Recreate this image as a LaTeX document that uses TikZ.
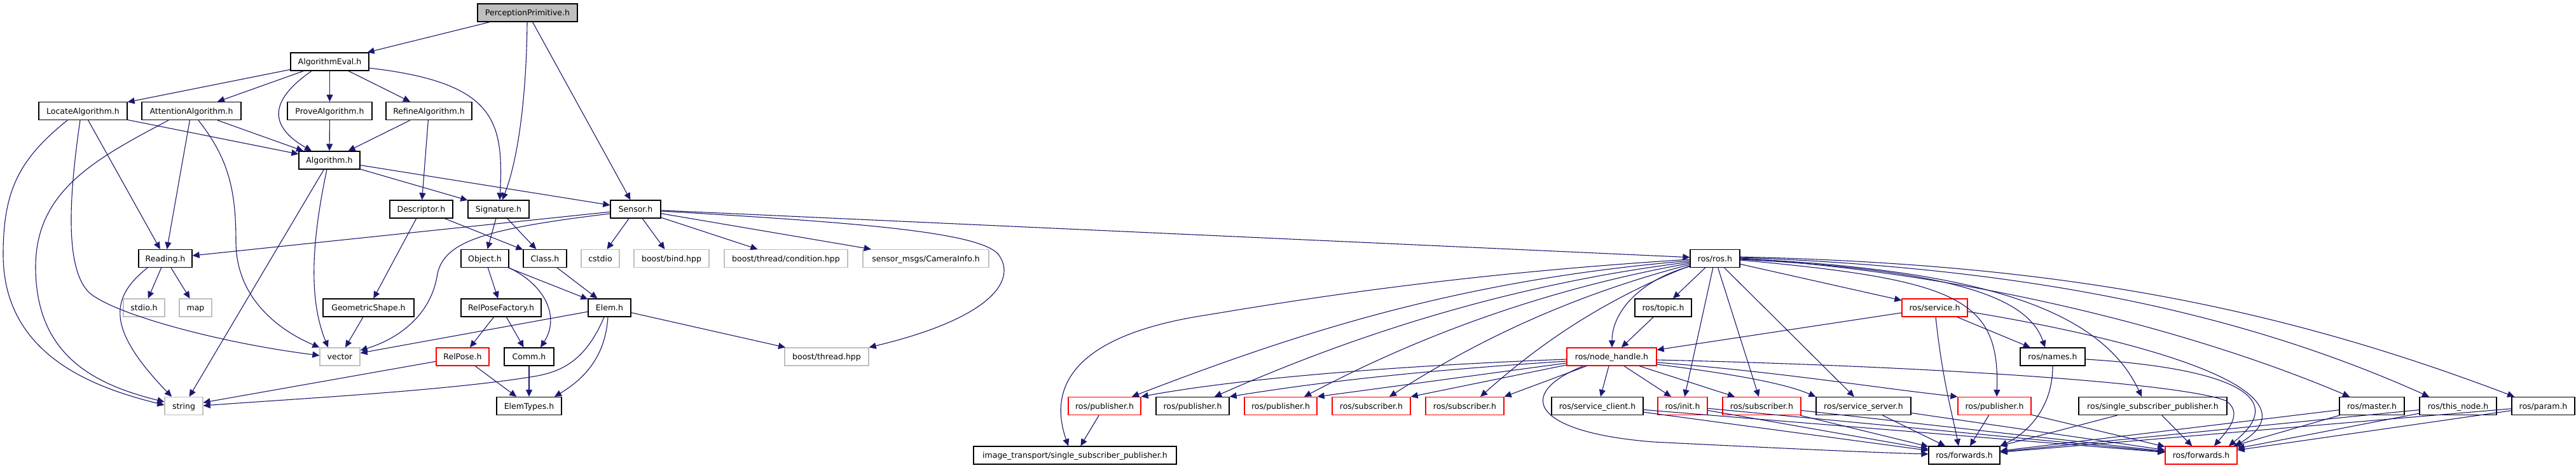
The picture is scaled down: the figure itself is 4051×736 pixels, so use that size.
\documentclass[tikz,border=0pt]{standalone}
\usepackage{fontspec}
\setmainfont{DejaVu Sans}
\usetikzlibrary{arrows.meta}
\definecolor{edgec}{HTML}{191970}
\definecolor{greyb}{HTML}{BFBFBF}
\newcommand{\mybox}[6]{\node[#5, minimum width={(#3-#2)*1pt}] (#1) at ({(#2+#3)/2},#4) {#6};}
\begin{document}
\begin{tikzpicture}[x=1pt,y=-1pt,
  font=\fontsize{12.5}{15}\selectfont,
  nb/.style={draw=black, line width=1.3pt, fill=white, inner sep=0pt, minimum height=28pt, text height=9.1pt, text depth=0pt},
  ng/.style={nb, draw=greyb},
  nr/.style={nb, draw=red},
  np/.style={nb, fill=greyb},
  dep/.style={draw=edgec, line width=1.1pt, -{Triangle[length=11pt,width=10pt]}, fill=none}
]
\useasboundingbox[fill=white] (0,0) rectangle (4051,736);
% rows: 20, 97, 174.5, 252, 329, 406.5, 484, 561, 638.5, 716
\mybox{P}{751}{908}{20}{np}{PerceptionPrimitive.h}
\mybox{AE}{457}{580}{97}{nb}{AlgorithmEval.h}
\mybox{LA}{61}{200}{174.5}{nb}{LocateAlgorithm.h}
\mybox{AA}{223}{379}{174.5}{nb}{AttentionAlgorithm.h}
\mybox{PA}{452}{585}{174.5}{nb}{ProveAlgorithm.h}
\mybox{RA}{607}{742}{174.5}{nb}{RefineAlgorithm.h}
\mybox{AL}{470}{566}{252}{nb}{Algorithm.h}
\mybox{DE}{613}{712}{329}{nb}{Descriptor.h}
\mybox{SI}{736}{832}{329}{nb}{Signature.h}
\mybox{SE}{960}{1039}{329}{nb}{Sensor.h}
\mybox{RE}{218}{302}{406.5}{nb}{Reading.h}
\mybox{OB}{725}{800}{406.5}{nb}{Object.h}
\mybox{CL}{823}{891}{406.5}{nb}{Class.h}
\mybox{CS}{914}{974}{406.5}{ng}{cstdio}
\mybox{BB}{997}{1115}{406.5}{ng}{boost/bind.hpp}
\mybox{BC}{1139}{1333}{406.5}{ng}{boost/thread/condition.hpp}
\mybox{CI}{1357}{1555}{406.5}{ng}{sensor\_msgs/CameraInfo.h}
\mybox{RO}{2658}{2736}{406.5}{nb}{ros/ros.h}
\mybox{ST}{194}{259}{484}{ng}{stdio.h}
\mybox{MA}{282}{333}{484}{ng}{map}
\mybox{GS}{508}{651}{484}{nb}{GeometricShape.h}
\mybox{RF}{725}{851}{484}{nb}{RelPoseFactory.h}
\mybox{EL}{925}{992}{484}{nb}{Elem.h}
\mybox{TO}{2571}{2660}{484}{nb}{ros/topic.h}
\mybox{SV}{2991}{3094}{484}{nr}{ros/service.h}
\mybox{VE}{503}{566}{561}{ng}{vector}
\mybox{RP}{686}{769}{561}{nr}{RelPose.h}
\mybox{CO}{793}{871}{561}{nb}{Comm.h}
\mybox{BT}{1234}{1366}{561}{ng}{boost/thread.hpp}
\mybox{NH}{2464}{2605}{561}{nr}{ros/node\_handle.h}
\mybox{NA}{3177}{3279}{561}{nb}{ros/names.h}
\mybox{STR}{259}{319}{638.5}{ng}{string}
\mybox{ET}{781}{883}{638.5}{nb}{ElemTypes.h}
\mybox{PB1}{1680}{1794}{638.5}{nr}{ros/publisher.h}
\mybox{PB2}{1818}{1933}{638.5}{nb}{ros/publisher.h}
\mybox{PB3}{1957}{2071}{638.5}{nr}{ros/publisher.h}
\mybox{SB1}{2095}{2218}{638.5}{nr}{ros/subscriber.h}
\mybox{SB2}{2242}{2365}{638.5}{nr}{ros/subscriber.h}
\mybox{SC}{2440}{2584}{638.5}{nb}{ros/service\_client.h}
\mybox{IN}{2607}{2685}{638.5}{nr}{ros/init.h}
\mybox{SB3}{2709}{2832}{638.5}{nr}{ros/subscriber.h}
\mybox{SS}{2856}{3005}{638.5}{nb}{ros/service\_server.h}
\mybox{PB4}{3079}{3194}{638.5}{nr}{ros/publisher.h}
\mybox{SSP}{3269}{3502}{638.5}{nb}{ros/single\_subscriber\_publisher.h}
\mybox{MS}{3679}{3781}{638.5}{nb}{ros/master.h}
\mybox{TN}{3805}{3926}{638.5}{nb}{ros/this\_node.h}
\mybox{PM}{3950}{4049}{638.5}{nb}{ros/param.h}
\mybox{IT}{1531}{1850}{716}{nb}{image\_transport/single\_subscriber\_publisher.h}
\mybox{FW1}{3033}{3145}{716}{nb}{ros/forwards.h}
\mybox{FW2}{3405}{3518}{716}{nr}{ros/forwards.h}

% --- left part ---
\draw[dep] (P) -- (AE);
\draw[dep] (P.south -| 829,0) .. controls (828,150) and (815,250) .. (SI.north -| 790,0);
\draw[dep] (P) -- (SE);
\draw[dep] (AE) -- (LA);
\draw[dep] (AE) -- (AA);
\draw[dep] (AE.south -| 490,0) .. controls (420,160) and (425,200) .. (AL.north -| 490,0);
\draw[dep] (AE) -- (PA);
\draw[dep] (AE) -- (RA);
\draw[dep] (AE.east |- 0,107) .. controls (780,130) and (792,190) .. (SI.north -| 786,0);
\draw[dep] (LA) -- (AL);
\draw[dep] (LA) -- (RE);
\draw[dep] (LA.south -| 126,0) .. controls (110,300) and (100,420) .. (140,460) .. controls (180,495) and (350,540) .. (VE.west |- 0,559);
\draw[dep] (LA.south -| 106,0) .. controls (30,250) and (5,300) .. (5,400) .. controls (5,560) and (150,610) .. (STR.west |- 0,637);
\draw[dep] (AA) -- (AL);
\draw[dep] (AA) -- (RE);
\draw[dep] (AA.south -| 265,0) .. controls (150,250) and (56,300) .. (56,420) .. controls (56,560) and (150,605) .. (STR.west |- 0,632);
\draw[dep] (AA.south -| 312,0) .. controls (360,250) and (371,300) .. (371,380) .. controls (371,470) and (440,520) .. (VE.north west);
\draw[dep] (PA) -- (AL);
\draw[dep] (RA) -- (AL);
\draw[dep] (RA) -- (DE);
\draw[dep] (AL) -- (SI);
\draw[dep] (AL) -- (SE);
\draw[dep] (AL) -- (STR);
\draw[dep] (AL.south -| 514,0) .. controls (490,380) and (485,470) .. (VE.north -| 516,0);
\draw[dep] (DE) -- (GS);
\draw[dep] (DE) -- (CL);
\draw[dep] (GS) -- (VE);
\draw[dep] (SE) -- (RE);
\draw[dep] (SE.west |- 0,336) .. controls (760,360) and (700,380) .. (688,430) .. controls (678,500) and (620,535) .. (VE.east |- 0,551);
\draw[dep] (SE) -- (CS);
\draw[dep] (SE) -- (BB);
\draw[dep] (SE) -- (BC);
\draw[dep] (SE) -- (CI);
\draw[dep] (SE.east |- 0,332) .. controls (1350,350) and (1540,365) .. (1570,400) .. controls (1600,440) and (1560,500) .. (BT.north east);
\draw[dep] (SE) -- (RO);
\draw[dep] (SI) -- (OB);
\draw[dep] (SI) -- (CL);
\draw[dep] (OB) -- (RF);
\draw[dep] (OB) -- (EL);
\draw[dep] (OB.south east) .. controls (860,450) and (880,500) .. (CO.north -| 850,0);
\draw[dep] (CL) -- (EL);
\draw[dep] (RF) -- (RP);
\draw[dep] (RF) -- (CO);
\draw[dep] (EL) -- (VE);
\draw[dep] (EL.south -| 950,0) .. controls (920,570) and (880,585) .. (840,592) .. controls (700,615) and (450,628) .. (STR.east |- 0,638);
\draw[dep] (EL.south -| 956,0) .. controls (952,560) and (920,595) .. (ET.north -| 872,0);
\draw[dep] (EL) -- (BT);
\draw[dep] (RP) -- (ET);
\draw[dep] (RP) -- (STR);
\draw[dep] (CO) -- (ET);
\draw[dep] (RE) -- (ST);
\draw[dep] (RE) -- (MA);
\draw[dep] (RE.south -| 232,0) .. controls (170,470) and (170,520) .. (STR.north -| 270,0);

% --- ros part ---
\draw[dep] (RO.west |- 0,408) .. controls (2300,430) and (2050,470) .. (1900,495) .. controls (1700,525) and (1645,600) .. (IT.north -| 1680,0);
\draw[dep] (RO.west |- 0,410) .. controls (2300,440) and (2050,520) .. (PB1.north -| 1780,0);
\draw[dep] (RO.west |- 0,412) .. controls (2350,450) and (2100,540) .. (PB2.north -| 1910,0);
\draw[dep] (RO.west |- 0,414) .. controls (2400,460) and (2200,545) .. (PB3.north -| 2051,0);
\draw[dep] (RO.west |- 0,416) .. controls (2450,470) and (2300,550) .. (SB1.north -| 2185,0);
\draw[dep] (RO.west |- 0,418) .. controls (2500,480) and (2400,560) .. (SB2.north -| 2328,0);
\draw[dep] (RO.west |- 0,419) .. controls (2580,440) and (2535,490) .. (NH.north -| 2535,0);
\draw[dep] (RO) -- (TO);
\draw[dep] (RO) -- (IN);
\draw[dep] (RO) -- (SB3);
\draw[dep] (RO) -- (SS);
\draw[dep] (RO) -- (SV);
\draw[dep] (RO.east |- 0,409) .. controls (3080,440) and (3145,470) .. (PB4.north -| 3140,0);
\draw[dep] (RO.east |- 0,408) .. controls (3080,425) and (3190,470) .. (NA.north -| 3216,0);
\draw[dep] (RO.east |- 0,407) .. controls (3150,425) and (3310,500) .. (SSP.north -| 3368,0);
\draw[dep] (RO.east |- 0,406) .. controls (3100,430) and (3450,520) .. (MS.north -| 3695,0);
\draw[dep] (RO.east |- 0,405) .. controls (3150,420) and (3500,480) .. (TN.north -| 3820,0);
\draw[dep] (RO.east |- 0,404) .. controls (3200,415) and (3550,470) .. (PM.north -| 3954,0);
\draw[dep] (TO) -- (NH);
\draw[dep] (SV) -- (NH);
\draw[dep] (SV) -- (NA);
\draw[dep] (SV.south -| 3044,0) .. controls (3055,600) and (3070,650) .. (FW1.north -| 3080,0);
\draw[dep] (SV.east |- 0,490) .. controls (3400,540) and (3650,620) .. (FW2.north -| 3515,0);
\draw[dep] (NA.south -| 3228,0) .. controls (3228,640) and (3190,680) .. (FW1.north east);
\draw[dep] (NA.east |- 0,565) .. controls (3450,575) and (3620,610) .. (FW2.north -| 3505,0);
\draw[dep] (NH.west |- 0,565) .. controls (2200,575) and (1950,595) .. (PB1.north east);
\draw[dep] (NH.west |- 0,568) .. controls (2200,585) and (2050,605) .. (PB2.north east);
\draw[dep] (NH.west |- 0,571) -- (PB3.north east);
\draw[dep] (NH.west |- 0,574) -- (SB1.north east);
\draw[dep] (NH.south -| 2495,0) -- (SB2.north east);
\draw[dep] (NH.south -| 2530,0) -- (SC.north -| 2517,0);
\draw[dep] (NH.south -| 2554,0) -- (IN.north -| 2628,0);
\draw[dep] (NH.south -| 2490,0) .. controls (2380,620) and (2410,680) .. (2600,695) .. controls (2800,705) and (2950,712) .. (FW1.west |- 0,714);
\draw[dep] (NH.south -| 2578,0) -- (SB3.north -| 2728,0);
\draw[dep] (NH.east |- 0,573) .. controls (2700,585) and (2800,600) .. (SS.north west);
\draw[dep] (NH.east |- 0,570) .. controls (2800,585) and (2950,610) .. (PB4.north west);
\draw[dep] (NH.east |- 0,566) .. controls (3000,575) and (3420,600) .. (3500,630) .. controls (3530,650) and (3500,680) .. (FW2.north -| 3482,0);
\draw[dep] (PB1) -- (IT);
\foreach \s in {SC,IN,SB3,SS,PB4,SSP,MS,TN,PM} {
  \draw[dep] (\s) -- (FW1);
  \draw[dep] (\s) -- (FW2);
}
\end{tikzpicture}
\end{document}
